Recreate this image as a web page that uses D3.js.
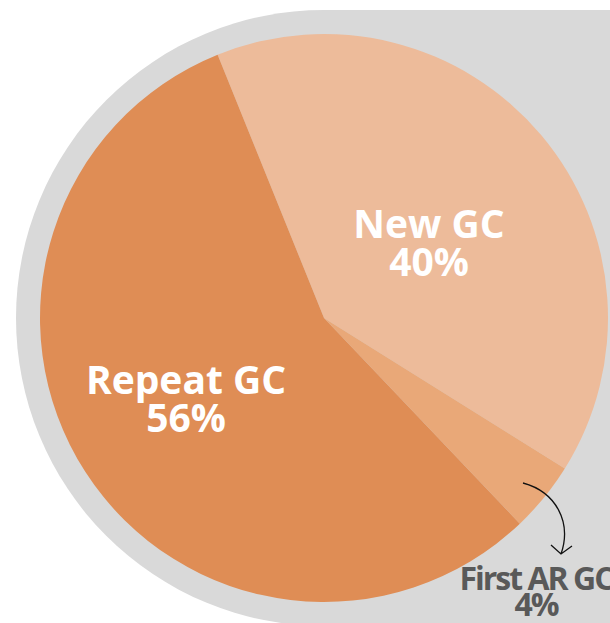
<!DOCTYPE html>
<html>
<head>
<meta charset="utf-8">
<script src="https://cdn.jsdelivr.net/npm/d3@7"></script>
<style>
  html, body { margin: 0; padding: 0; background: #fff; overflow: hidden; }
  svg { display: block; }
</style>
</head>
<body>
<svg id="chart" width="610" height="623"></svg>
<script>
const categories = ['New GC', 'First AR GC', 'Repeat GC'];
const values = [40, 4, 56];
const colors = ['#EDBB9A', '#E9A878', '#DF8D55'];

const width = 610;
const height = 623;
const cx = 324;
const cy = 318;
const radius = 284;
const startAngle = -22 * Math.PI / 180;

const svg = d3.select('#chart');

// gray backdrop: circle on the left, square block to the right
const bg = svg.append('g').attr('fill', '#D9D9D9');
bg.append('circle').attr('cx', cx).attr('cy', cy).attr('r', 308);
bg.append('rect').attr('x', cx).attr('y', 10).attr('width', width - cx).attr('height', height);

const pie = d3.pie()
  .sort(null)
  .startAngle(startAngle)
  .endAngle(startAngle + 2 * Math.PI)
  .value(d => d);

const arcs = pie(values);
const arc = d3.arc().innerRadius(0).outerRadius(radius);

const g = svg.append('g').attr('transform', `translate(${cx},${cy})`);
g.selectAll('path')
  .data(arcs)
  .join('path')
  .attr('fill', (d, i) => colors[i])
  .attr('d', arc);

// labels inside slices
const inside = [
  { i: 0, x: 429, y: 238 },
  { i: 2, x: 186, y: 394 }
];
inside.forEach(l => {
  const t = svg.append('text')
    .attr('text-anchor', 'middle')
    .attr('font-family', '"Open Sans", sans-serif')
    .attr('font-weight', 700)
    .attr('font-size', 39)
    .attr('fill', '#fff');
  t.append('tspan').attr('x', l.x).attr('y', l.y).text(categories[l.i]);
  t.append('tspan').attr('x', l.x).attr('y', l.y + 38).text(values[l.i] + '%');
});

// callout for the small slice
svg.append('path')
  .attr('fill', 'none')
  .attr('stroke', '#111')
  .attr('stroke-width', 1.3)
  .attr('d', 'M523,483 C556,492 572,522 561,554 M551,545 L561,554 L572,546');

const out = svg.append('text')
  .attr('text-anchor', 'middle')
  .attr('font-family', '"Open Sans", sans-serif')
  .attr('font-weight', 700)
  .attr('font-size', 32)
  .attr('letter-spacing', -2)
  .attr('fill', '#595959');
out.append('tspan').attr('x', 536).attr('y', 590).text(categories[1]);
out.append('tspan').attr('x', 536).attr('y', 616).text(values[1] + '%');
</script>
</body>
</html>
